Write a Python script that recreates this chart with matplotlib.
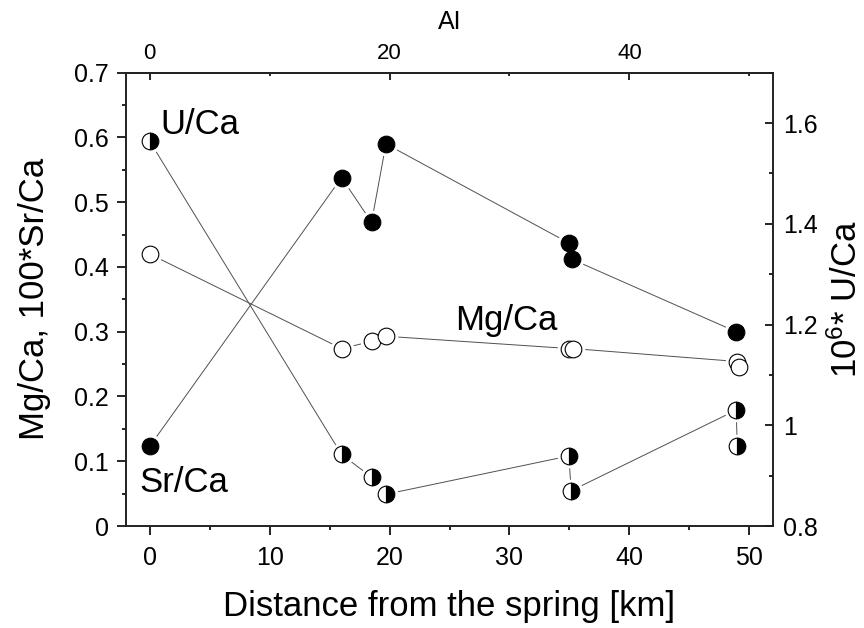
import matplotlib
matplotlib.use("Agg")
import matplotlib.pyplot as plt
from matplotlib.ticker import MultipleLocator, FuncFormatter

plt.rcParams.update({
    "font.family": "Liberation Sans",
    "mathtext.default": "regular",
    "axes.linewidth": 1.2,
    "axes.edgecolor": "#222222",
})

# Sr/Ca (x100), filled circles, left axis
sr_km = [0, 16, 18.5, 19.7, 34.95, 35.2, 48.9]
sr_val = [0.123, 0.538, 0.469, 0.590, 0.437, 0.412, 0.300]

# Mg/Ca, open circles, left axis
mg_km = [0, 16, 18.5, 19.7, 35.0, 35.3, 49.0, 49.1]
mg_val = [0.420, 0.274, 0.285, 0.293, 0.274, 0.274, 0.254, 0.246]

# U/Ca (x1e6), half filled circles, right axis
u_km = [0, 16, 18.5, 19.7, 34.95, 35.15, 48.9, 49.0]
u_val = [1.564, 0.942, 0.897, 0.863, 0.939, 0.870, 1.030, 0.959]

fmt = FuncFormatter(lambda v, p: f"{v:g}")
line_kw = dict(color="#505050", lw=0.7, zorder=1)
halo_kw = dict(ls="none", marker="o", ms=17, mfc="white", mec="none", zorder=2)
mk = dict(ls="none", marker="o", ms=12, mec="black", mew=0.8, zorder=3)

fig = plt.figure(figsize=(8.64, 6.28), dpi=100)
ax = fig.add_axes([125.7 / 864, 1 - 526 / 628, 647.6 / 864, 453.3 / 628])

ax.plot(sr_km, sr_val, **line_kw)
ax.plot(mg_km, mg_val, **line_kw)
ax.plot(sr_km, sr_val, **halo_kw)
ax.plot(mg_km, mg_val, **halo_kw)
ax.plot(sr_km, sr_val, mfc="black", **mk)
ax.plot(mg_km, mg_val, mfc="white", **mk)

ax.set_xlim(-2, 52)
ax.set_ylim(0, 0.7)
ax.xaxis.set_major_locator(MultipleLocator(10))
ax.xaxis.set_minor_locator(MultipleLocator(5))
ax.yaxis.set_major_locator(MultipleLocator(0.1))
ax.yaxis.set_minor_locator(MultipleLocator(0.05))
ax.yaxis.set_major_formatter(fmt)
ax.tick_params(which="both", direction="out", width=1.2, labelsize=18, top=False, right=False)
ax.tick_params(which="major", length=6.3)
ax.tick_params(which="minor", length=2.6)
ax.tick_params(axis="x", which="major", pad=8)
ax.tick_params(axis="y", which="major", pad=6)

ax.set_xlabel("Distance from the spring [km]", fontsize=25)
ax.set_ylabel("Mg/Ca, 100*Sr/Ca", fontsize=25)
ax.xaxis.set_label_coords(0.5, -0.141)
ax.yaxis.set_label_coords(-0.116, 0.5)

ax.text(0.88, 0.606, "U/Ca", fontsize=25)
ax.text(25.5, 0.302, "Mg/Ca", fontsize=25)
ax.text(-0.85, 0.053, "Sr/Ca", fontsize=25)

ax2 = ax.twinx()
ax2.plot(u_km, u_val, **line_kw)
ax2.plot(u_km, u_val, **halo_kw)
ax2.plot(u_km, u_val, fillstyle="left", mfc="white", markerfacecoloralt="black", **mk)
ax2.set_ylim(0.8, 1.7)
ax2.yaxis.set_major_locator(MultipleLocator(0.2))
ax2.yaxis.set_minor_locator(MultipleLocator(0.1))
ax2.yaxis.set_major_formatter(fmt)
ax2.tick_params(which="both", direction="in", width=1.2, labelsize=18, pad=7)
ax2.tick_params(which="major", length=5.8)
ax2.tick_params(which="minor", length=2.8)
ax2.set_ylabel("10$^{6}$* U/Ca", fontsize=25)
ax2.yaxis.set_label_coords(1.086, 0.5)

top = ax.secondary_xaxis("top")
top.set_xticks([0, 20, 40])
top.xaxis.set_minor_locator(MultipleLocator(10))
top.tick_params(which="both", direction="in", width=1.2, labelsize=16, pad=6)
top.tick_params(which="major", length=5)
top.tick_params(which="minor", length=2.5)
top.set_xlabel("AI", fontsize=18, labelpad=10)

fig.savefig("out.png", dpi=100)
